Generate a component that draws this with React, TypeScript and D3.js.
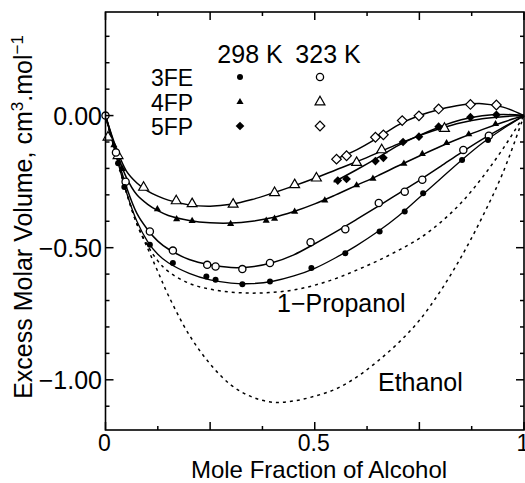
import * as d3 from 'd3'
import React from 'react'

const WIDTH = 525
const HEIGHT = 483
const FONT = '"Liberation Sans", Arial, Helvetica, sans-serif'

const curveX = [0, 0.025, 0.05, 0.075, 0.1, 0.125, 0.15, 0.2, 0.25, 0.3, 0.35, 0.4, 0.45, 0.5, 0.55, 0.6, 0.65, 0.7, 0.75, 0.8, 0.85, 0.9, 0.95, 1]
const fit4FP323 = [0, -0.12, -0.21, -0.255, -0.285, -0.305, -0.32, -0.338, -0.343, -0.336, -0.318, -0.293, -0.266, -0.237, -0.206, -0.175, -0.141, -0.107, -0.076, -0.049, -0.027, -0.012, -0.004, 0]
const fit4FP298 = [0, -0.13, -0.235, -0.3, -0.335, -0.36, -0.378, -0.397, -0.406, -0.407, -0.4, -0.386, -0.363, -0.334, -0.3, -0.264, -0.228, -0.19, -0.153, -0.117, -0.084, -0.053, -0.025, 0]
const fit3FE323 = [0, -0.14, -0.27, -0.37, -0.43, -0.475, -0.505, -0.545, -0.565, -0.575, -0.572, -0.556, -0.527, -0.485, -0.44, -0.393, -0.345, -0.295, -0.245, -0.193, -0.14, -0.09, -0.045, 0]
const fit3FE298 = [0, -0.15, -0.29, -0.4, -0.475, -0.525, -0.557, -0.597, -0.622, -0.634, -0.636, -0.627, -0.607, -0.578, -0.538, -0.492, -0.44, -0.38, -0.31, -0.24, -0.17, -0.105, -0.05, 0]
const propanol = [0, -0.15, -0.29, -0.41, -0.49, -0.55, -0.59, -0.635, -0.657, -0.668, -0.672, -0.669, -0.66, -0.642, -0.617, -0.585, -0.55, -0.51, -0.465, -0.405, -0.33, -0.235, -0.125, 0]
const ethanol = [0, -0.15, -0.29, -0.41, -0.5, -0.59, -0.68, -0.83, -0.94, -1.02, -1.065, -1.085, -1.08, -1.062, -1.035, -0.99, -0.93, -0.86, -0.775, -0.665, -0.535, -0.385, -0.215, 0]

// the 5FP curves only cover the alcohol-rich side
const curveX5FP = [0.545, 0.6, 0.65, 0.7, 0.75, 0.8, 0.85, 0.9, 0.95, 1]
const fit5FP323 = [-0.168, -0.13, -0.085, -0.035, 0.0, 0.024, 0.04, 0.045, 0.032, 0]
const fit5FP298 = [-0.252, -0.205, -0.16, -0.113, -0.075, -0.042, -0.016, -0.001, 0.004, 0]

// measured points [x, VE]
const pts3FE298 = [[0.03, -0.18], [0.045, -0.27], [0.106, -0.489], [0.161, -0.558], [0.241, -0.609], [0.263, -0.621], [0.327, -0.638], [0.393, -0.628], [0.492, -0.577], [0.573, -0.521], [0.655, -0.439], [0.715, -0.363], [0.759, -0.294], [0.852, -0.168], [0.914, -0.092]]
const pts3FE323 = [[0, 0], [0.025, -0.14], [0.048, -0.25], [0.106, -0.439], [0.161, -0.511], [0.243, -0.565], [0.263, -0.571], [0.327, -0.581], [0.393, -0.558], [0.49, -0.479], [0.573, -0.43], [0.653, -0.331], [0.715, -0.288], [0.757, -0.243], [0.855, -0.13], [0.916, -0.076]]
const pts4FP298 = [[0.02, -0.11], [0.04, -0.2], [0.124, -0.352], [0.17, -0.39], [0.207, -0.397], [0.299, -0.408], [0.384, -0.396], [0.404, -0.388], [0.452, -0.362], [0.524, -0.319], [0.6, -0.262], [0.639, -0.237], [0.713, -0.18], [0.757, -0.143], [0.815, -0.102], [0.868, -0.069], [0.932, -0.03]]
const pts4FP323 = [[0.006, -0.08], [0.03, -0.15], [0.091, -0.27], [0.169, -0.321], [0.207, -0.332], [0.305, -0.334], [0.404, -0.29], [0.452, -0.26], [0.504, -0.235], [0.6, -0.176], [0.66, -0.128], [0.81, -0.047]]
const pts5FP298 = [[0.555, -0.246], [0.576, -0.24], [0.645, -0.172], [0.664, -0.16], [0.711, -0.1], [0.749, -0.08], [0.796, -0.042], [0.872, -0.006], [0.934, 0.003]]
const pts5FP323 = [[0.552, -0.165], [0.576, -0.152], [0.645, -0.082], [0.664, -0.073], [0.709, -0.019], [0.749, -0.001], [0.796, 0.025], [0.872, 0.042], [0.934, 0.04]]

const xTickLabels = ['0', '0.5', '1']
const yTickLabels = ['0.00', '\u22120.50', '\u22121.00']
const legendRows = ['3FE', '4FP', '5FP']
const legendCols = ['298 K', '323 K']

const x = d3.scaleLinear().domain([0, 1]).range([105.5, 524])
const y = d3.scaleLinear().domain([-1.19, 0.392]).range([430, 12])

const line = d3
  .line<number[]>()
  .x(d => x(d[0]))
  .y(d => y(d[1]))
  .curve(d3.curveCatmullRom.alpha(0.5))

const zip = (xs: number[], ys: number[]) => xs.map((v, i) => [v, ys[i]])

const tri = (size: number) => d3.symbol(d3.symbolTriangle, size)()
const diamond = (size: number) => d3.symbol(d3.symbolSquare, size)()

const Marker = ({ kind, cx, cy }: { kind: string; cx: number; cy: number }) => {
  switch (kind) {
    case 'dot':
      return <circle cx={cx} cy={cy} r={3} fill="#000" />
    case 'circle':
      return <circle cx={cx} cy={cy} r={3.6} fill="#fff" stroke="#000" strokeWidth={1.3} />
    case 'tri':
      return <path d={tri(22) || ''} transform={`translate(${cx},${cy + 0.5})`} fill="#000" />
    case 'otri':
      return <path d={tri(42) || ''} transform={`translate(${cx},${cy + 0.5})`} fill="#fff" stroke="#000" strokeWidth={1.2} />
    case 'dia':
      return <path d={diamond(38) || ''} transform={`translate(${cx},${cy}) rotate(45)`} fill="#000" />
    case 'odia':
      return <path d={diamond(46) || ''} transform={`translate(${cx},${cy}) rotate(45)`} fill="#fff" stroke="#000" strokeWidth={1.2} />
    default:
      return null
  }
}

const fits = [
  { pts: zip(curveX, fit4FP323), w: 1.5 },
  { pts: zip(curveX, fit4FP298), w: 1.5 },
  { pts: zip(curveX, fit3FE323), w: 1.5 },
  { pts: zip(curveX, fit3FE298), w: 1.3 },
  { pts: zip(curveX5FP, fit5FP323), w: 1.5 },
  { pts: zip(curveX5FP, fit5FP298), w: 1.5 },
]

const series = [
  { pts: pts4FP323, kind: 'otri' },
  { pts: pts4FP298, kind: 'tri' },
  { pts: pts3FE323, kind: 'circle' },
  { pts: pts3FE298, kind: 'dot' },
  { pts: pts5FP323, kind: 'odia' },
  { pts: pts5FP298, kind: 'dia' },
]

const legendKinds = [
  ['dot', 'circle'],
  ['tri', 'otri'],
  ['dia', 'odia'],
]

export default function App() {
  const [x0, x1] = x.range()
  const [yb, yt] = y.range()
  const xTicks = d3.range(0, 9).map(i => i * 0.125)
  const yTicks = d3.range(-11, 4).map(i => i / 10)

  return (
    <svg
      width={WIDTH}
      height={HEIGHT}
      style={{ position: 'absolute', left: 0, top: 0, background: '#fff' }}
      fontFamily={FONT}
    >
      <rect width={WIDTH} height={HEIGHT} fill="#fff" />

      {/* reference alcohols, dotted */}
      {[propanol, ethanol].map((vals, i) => (
        <path
          key={'ref' + i}
          d={line(zip(curveX, vals)) || ''}
          fill="none"
          stroke="#000"
          strokeWidth={1.5}
          strokeDasharray="3,4"
        />
      ))}

      {fits.map((f, i) => (
        <path key={'fit' + i} d={line(f.pts) || ''} fill="none" stroke="#000" strokeWidth={f.w} />
      ))}

      {series.map((s, i) => (
        <g key={'s' + i}>
          {s.pts.map((p, j) => (
            <Marker key={j} kind={s.kind} cx={x(p[0])} cy={y(p[1])} />
          ))}
        </g>
      ))}

      {/* frame */}
      <rect x={x0} y={yt} width={x1 - x0} height={yb - yt} fill="none" stroke="#000" strokeWidth={1.6} />

      {xTicks.map((t, i) => {
        const len = i % 2 === 0 ? 8 : 4
        return (
          <g key={'xt' + i}>
            <line x1={x(t)} x2={x(t)} y1={yb} y2={yb - len} stroke="#000" strokeWidth={1.5} />
            <line x1={x(t)} x2={x(t)} y1={yt} y2={yt + len} stroke="#000" strokeWidth={1.5} />
          </g>
        )
      })}
      {yTicks.map((t, i) => {
        const major = Math.abs((t * 10) % 5) < 1e-6
        const len = major ? 8 : 4
        return (
          <g key={'yt' + i}>
            <line x1={x0} x2={x0 + len} y1={y(t)} y2={y(t)} stroke="#000" strokeWidth={1.5} />
            <line x1={x1} x2={x1 - len} y1={y(t)} y2={y(t)} stroke="#000" strokeWidth={1.5} />
          </g>
        )
      })}

      {xTickLabels.map((lab, i) => (
        <text key={'xl' + i} x={x(i * 0.5) - 1} y={451} fontSize={23} textAnchor="middle">
          {lab}
        </text>
      ))}
      {yTickLabels.map((lab, i) => (
        <text key={'yl' + i} x={102} y={y(-i * 0.5) + 9.5} fontSize={25} textAnchor="end">
          {lab}
        </text>
      ))}

      <text x={319} y={478} fontSize={24} textAnchor="middle">
        Mole Fraction of Alcohol
      </text>
      <text transform="translate(32,217) rotate(-90)" fontSize={25} textAnchor="middle">
        Excess Molar Volume, cm
        <tspan dy={-9} fontSize={17}>3</tspan>
        <tspan dy={9}>.mol</tspan>
        <tspan dy={-9} fontSize={17}>{'\u22121'}</tspan>
      </text>

      {/* legend */}
      {legendCols.map((c, i) => (
        <text key={'lc' + i} x={250 + i * 78} y={63} fontSize={25} textAnchor="middle">
          {c}
        </text>
      ))}
      {legendRows.map((r, i) => (
        <g key={'lr' + i}>
          <text x={151} y={86 + i * 24.7} fontSize={23}>
            {r}
          </text>
          <Marker kind={legendKinds[i][0]} cx={240} cy={77 + i * 24.5} />
          <Marker kind={legendKinds[i][1]} cx={320} cy={77 + i * 24.5} />
        </g>
      ))}

      <text x={277} y={312} fontSize={25}>
        1{'\u2212'}Propanol
      </text>
      <text x={378} y={391} fontSize={25}>
        Ethanol
      </text>
    </svg>
  )
}
